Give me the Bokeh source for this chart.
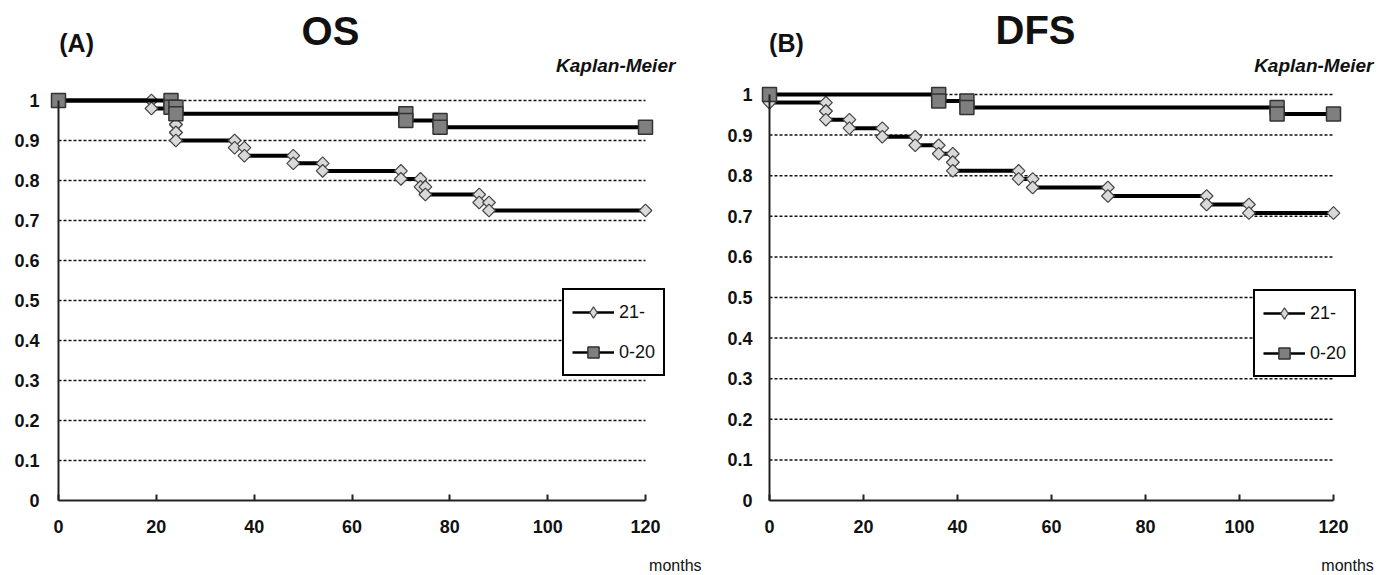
import math
from bokeh.plotting import figure
from bokeh.models import FixedTicker, Label, Legend, LegendItem, Range1d
from bokeh.layouts import row
from bokeh.embed import file_html
from bokeh.resources import INLINE

# ---------------- data ----------------
y_ticks = [0, 0.1, 0.2, 0.3, 0.4, 0.5, 0.6, 0.7, 0.8, 0.9, 1.0]
y_tick_labels = ["0", "0.1", "0.2", "0.3", "0.4", "0.5", "0.6", "0.7", "0.8", "0.9", "1"]
x_ticks = [0, 20, 40, 60, 80, 100, 120]
x_tick_labels = ["0", "20", "40", "60", "80", "100", "120"]
series_labels = ["21-", "0-20"]
follow_up_end = 120

# OS, group 21- : event times (months) and survival after each event
os_21_t = [19, 24, 24, 24, 24, 36, 38, 48, 54, 70, 74, 75, 86, 88]
os_21_s = [0.98, 0.96, 0.94, 0.92, 0.90, 0.882, 0.862, 0.843, 0.824, 0.804, 0.784, 0.765, 0.745, 0.725]
# OS, group 0-20
os_020_t = [23, 24, 71, 78]
os_020_s = [0.983, 0.967, 0.95, 0.933]

# DFS, group 21-
dfs_21_t = [0, 12, 12, 17, 24, 31, 36, 39, 39, 53, 56, 72, 93, 102]
dfs_21_s = [0.98, 0.959, 0.938, 0.917, 0.896, 0.875, 0.854, 0.833, 0.812, 0.792, 0.771, 0.75, 0.729, 0.708]
# DFS, group 0-20
dfs_020_t = [36, 42, 108]
dfs_020_s = [0.984, 0.968, 0.952]


def steps(event_t, event_s, end_t):
    xs, ys, prev = [0], [1.0], 1.0
    for t, s in zip(event_t, event_s):
        xs += [t, t]
        ys += [prev, s]
        prev = s
    xs.append(end_t)
    ys.append(prev)
    return xs, ys


FONT = "Liberation Sans"
DIAMOND_FILL, DIAMOND_LINE = "#d9d9d9", "#444444"
SQUARE_FILL, SQUARE_LINE = "#7f7f7f", "#333333"


def make_panel(cfg, long_t, long_s, short_t, short_s):
    p = figure(width=cfg["w"], height=575,
               min_border_left=0, min_border_right=0,
               min_border_top=0, min_border_bottom=0,
               x_range=Range1d(*cfg["xr"]), y_range=Range1d(*cfg["yr"]),
               output_backend="svg", toolbar_location=None,
               background_fill_color="white", border_fill_color="white")
    p.outline_line_color = None
    p.xgrid.visible = False
    p.ygrid.visible = False

    # x axis, fixed at y = 0
    xa = p.xaxis[0]
    xa.fixed_location = 0
    xa.ticker = FixedTicker(ticks=x_ticks)
    xa.major_label_overrides = {t: l for t, l in zip(x_ticks, x_tick_labels)}
    xa.bounds = (x_ticks[0], x_ticks[-1])
    xa.axis_line_width = 2
    xa.axis_line_color = "#222222"
    xa.major_tick_in = 6
    xa.major_tick_out = 0
    xa.major_tick_line_width = 2
    xa.major_tick_line_color = "#222222"
    xa.minor_tick_line_color = None
    xa.major_label_standoff = 19
    xa.major_label_text_font = FONT
    xa.major_label_text_font_style = "bold"
    xa.major_label_text_font_size = "18px"
    xa.major_label_text_color = "#111111"

    # y axis, fixed at x = 0
    ya = p.yaxis[0]
    ya.fixed_location = 0
    ya.ticker = FixedTicker(ticks=y_ticks)
    ya.major_label_overrides = {t: l for t, l in zip(y_ticks, y_tick_labels)}
    ya.bounds = (y_ticks[0], y_ticks[-1])
    ya.axis_line_width = 2
    ya.axis_line_color = "#222222"
    ya.major_tick_in = 0
    ya.major_tick_out = 0
    ya.minor_tick_line_color = None
    ya.major_label_standoff = cfg["ystand"]
    ya.major_label_text_font = FONT
    ya.major_label_text_font_style = "bold"
    ya.major_label_text_font_size = "18px"
    ya.major_label_text_color = "#111111"

    # dashed horizontal grid lines from 0 to end of follow-up
    gy = y_ticks[1:]
    p.segment(x0=[x_ticks[0]] * len(gy), x1=[x_ticks[-1]] * len(gy), y0=gy, y1=gy,
              line_color="#111111", line_width=1.5, line_dash="3 2")

    lx, ly = steps(long_t, long_s, follow_up_end)
    sx, sy = steps(short_t, short_s, follow_up_end)

    p.line(lx, ly, line_color="black", line_width=4)
    p.scatter(lx, ly, marker="square", angle=math.pi / 4, size=9,
              fill_color=DIAMOND_FILL, line_color=DIAMOND_LINE, line_width=1.2)
    p.line(sx, sy, line_color="black", line_width=4)
    p.scatter(sx, sy, marker="square", size=14,
              fill_color=SQUARE_FILL, line_color=SQUARE_LINE, line_width=1.5)

    # legend-only glyph styles (no data points)
    nan = float("nan")
    lg1 = p.line([nan], [nan], line_color="black", line_width=2.5)
    lm1 = p.scatter([nan], [nan], marker="diamond", size=12,
                    fill_color=DIAMOND_FILL, line_color=DIAMOND_LINE, line_width=1.2)
    lg2 = p.line([nan], [nan], line_color="black", line_width=2.5)
    lm2 = p.scatter([nan], [nan], marker="square", size=12,
                    fill_color=SQUARE_FILL, line_color=SQUARE_LINE, line_width=1.5)

    legend = Legend(items=[LegendItem(label=series_labels[0], renderers=[lg1, lm1]),
                           LegendItem(label=series_labels[1], renderers=[lg2, lm2])],
                    location=cfg["leg"], orientation="vertical",
                    glyph_width=42, glyph_height=28, label_height=20,
                    label_standoff=5, padding=8, spacing=12, margin=0,
                    border_line_color="black", border_line_width=2,
                    border_line_alpha=1.0,
                    background_fill_color="white", background_fill_alpha=1,
                    label_text_font=FONT, label_text_font_size="18px",
                    label_text_color="#111111")
    p.add_layout(legend)

    for (txt, x, y, size, style, align) in cfg["labels"]:
        p.add_layout(Label(x=x, y=y, text=txt, text_font=FONT, text_font_size=size,
                           text_font_style=style, text_align=align,
                           text_baseline="middle", text_color="#111111"))
    return p


# left panel: t=0 at x=58, 4.8917 px/month; y=1 at 100, y=0 at 500
os_cfg = dict(w=708,
              xr=(-58 / 4.8917, 650 / 4.8917), yr=(-75 / 400, 1 + 100 / 400), ystand=19,
              leg=(562, 199),
              labels=[("(A)", 3.7, 1.145, "25px", "bold", "center"),
                      ("OS", 55.6, 1.175, "40px", "bold", "center"),
                      ("Kaplan-Meier", 126.1, 1.0875, "19px", "bold italic", "right"),
                      ("months", 126.1, -0.1625, "16px", "normal", "center")])

# right panel: t=0 at x=769 (61 within figure), 4.7 px/month; y=1 at 94, y=0 at 500
dfs_cfg = dict(w=670,
               xr=(-61 / 4.7, 609 / 4.7), yr=(-75 / 406, 1 + 94 / 406), ystand=17,
               leg=(545, 198),
               labels=[("(B)", 3.6, 1.128, "25px", "bold", "center"),
                       ("DFS", 56.6, 1.158, "40px", "bold", "center"),
                       ("Kaplan-Meier", 128.5, 1.071, "19px", "bold italic", "right"),
                       ("months", 123.0, -0.160, "16px", "normal", "center")])

p1 = make_panel(os_cfg, os_21_t, os_21_s, os_020_t, os_020_s)
p2 = make_panel(dfs_cfg, dfs_21_t, dfs_21_s, dfs_020_t, dfs_020_s)

layout = row(p1, p2, spacing=0)
open("out.html", "w").write(file_html(layout, INLINE))
